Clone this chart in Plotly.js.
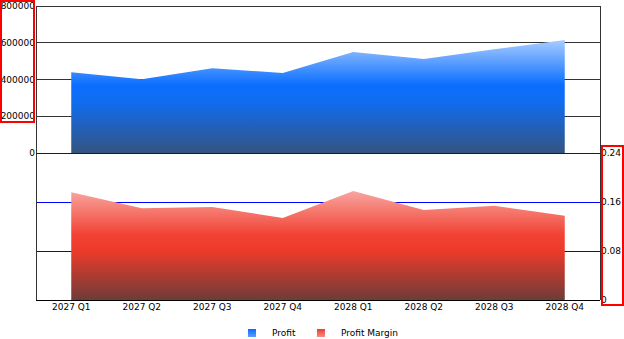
<!DOCTYPE html>
<html>
<head>
<meta charset="utf-8">
<script src="https://cdn.plot.ly/plotly-3.0.1.min.js"></script>
<style>
html,body{margin:0;padding:0;background:#fff;}
#chart{width:624px;height:339px;}
#chart .shapelayer path{shape-rendering:crispEdges;}
</style>
</head>
<body>
<div id="chart"></div>
<script>
var categories = ["2027 Q1","2027 Q2","2027 Q3","2027 Q4","2028 Q1","2028 Q2","2028 Q3","2028 Q4"];
var profit = [440000, 401000, 461000, 435000, 550000, 512000, 565000, 615000];
var profitMargin = [0.176, 0.150, 0.152, 0.134, 0.178, 0.147, 0.154, 0.1375];
var profitTicks = [0, 200000, 400000, 600000, 800000];
var marginTicks = [0, 0.08, 0.16, 0.24];
var seriesNames = ["Profit", "Profit Margin"];

var FONT = {family: "DejaVu Sans, Verdana, sans-serif", size: 9, color: "#000"};

var blueScale = [[0, "rgb(52,84,128)"], [0.45, "rgb(16,108,240)"], [0.6, "rgb(10,110,255)"], [1, "rgb(168,204,255)"]];
var redScale = [[0, "rgb(110,60,56)"], [0.45, "rgb(236,58,42)"], [0.6, "rgb(242,66,52)"], [1, "rgb(248,166,160)"]];

var traces = [
  {
    x: categories, y: profit, xaxis: "x2", yaxis: "y",
    type: "scatter", mode: "none", fill: "tozeroy", showlegend: false, hoverinfo: "skip",
    fillgradient: {type: "vertical", start: 0, stop: Math.max.apply(null, profit), colorscale: blueScale}
  },
  {
    x: categories, y: profitMargin, xaxis: "x", yaxis: "y2",
    type: "scatter", mode: "none", fill: "tozeroy", showlegend: false, hoverinfo: "skip",
    fillgradient: {type: "vertical", start: 0, stop: Math.max.apply(null, profitMargin), colorscale: redScale}
  },
  {
    x: [null], y: [null], xaxis: "x2", yaxis: "y", name: seriesNames[0],
    type: "scatter", mode: "markers",
    marker: {symbol: "square", size: 8, color: "#0a66ff", gradient: {type: "vertical", color: "#5aa0ff"}}
  },
  {
    x: [null], y: [null], xaxis: "x", yaxis: "y2", name: seriesNames[1],
    type: "scatter", mode: "markers",
    marker: {symbol: "square", size: 8, color: "#e83a2c", gradient: {type: "vertical", color: "#f88a84"}}
  }
];

function redBox(x0, x1, y0, y1) {
  return {type: "rect", xref: "paper", yref: "paper", x0: x0, x1: x1, y0: y0, y1: y1,
          line: {color: "#ff0000", width: 2}, fillcolor: "rgba(0,0,0,0)", layer: "above"};
}
function pline(x0, x1, y0, y1, color) {
  return {type: "line", xref: "paper", yref: "paper", x0: x0, x1: x1, y0: y0, y1: y1,
          line: {color: color, width: 1}, layer: "above"};
}

var layout = {
  width: 624, height: 339,
  margin: {l: 36, r: 24, t: 6, b: 39, autoexpand: false},
  paper_bgcolor: "#fff", plot_bgcolor: "#fff",
  font: FONT,
  showlegend: true,
  legend: {orientation: "h", x: 0.5, xanchor: "center", xref: "paper",
           yref: "container", y: 0.018, yanchor: "middle",
           font: FONT, itemwidth: 30, traceorder: "normal"},
  xaxis: {
    type: "category", range: [-0.5, 7.5], anchor: "y2", domain: [0, 1],
    showgrid: false, zeroline: false, showline: false, ticks: "",
    tickfont: FONT, fixedrange: true, automargin: false
  },
  xaxis2: {
    type: "category", range: [-0.5, 7.5], anchor: "y", domain: [0, 1], matches: "x",
    showgrid: false, zeroline: false, showline: false, ticks: "", showticklabels: false,
    fixedrange: true, automargin: false
  },
  yaxis: {
    domain: [0.5, 1], anchor: "x2", range: [0, 800000],
    tickvals: profitTicks, tickformat: "d", ticks: "",
    showgrid: true, gridcolor: "#333", gridwidth: 1,
    zeroline: false, showline: false, tickfont: FONT, automargin: false
  },
  yaxis2: {
    domain: [0, 0.5], anchor: "x", side: "right", range: [0, 0.24],
    tickvals: marginTicks, ticktext: marginTicks.map(String), ticks: "",
    showgrid: true, gridcolor: "#0000ff", gridwidth: 1,
    zeroline: false, showline: false, tickfont: FONT, automargin: false
  },
  shapes: [
    pline(0, 0, 0, 1, "#333"),
    pline(0, 1, 1, 1, "#333"),
    pline(1, 1, 0, 1, "#333"),
    pline(0, 1, 0, 0, "#000"),
    pline(0, 1, 0.5, 0.5, "#0000ff"),
    redBox(-0.0621, -0.0044, 0.6054, 1.017),
    redBox(1.0027, 1.0399, -0.017, 0.5238)
  ]
};

Plotly.newPlot("chart", traces, layout, {staticPlot: true, displayModeBar: false});
</script>
</body>
</html>
